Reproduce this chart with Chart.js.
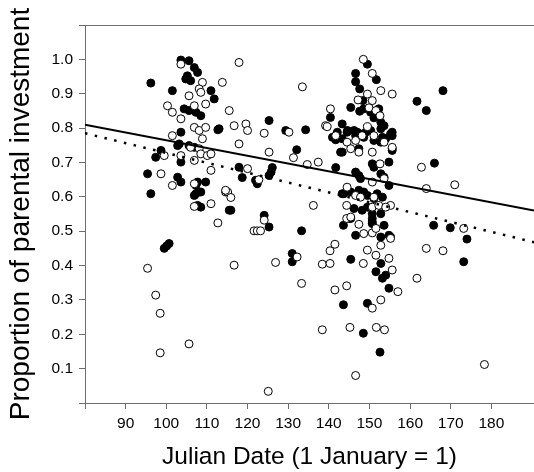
<!DOCTYPE html>
<html>
<head>
<meta charset="utf-8">
<title>Proportion of parental investment by Julian date</title>
<script src="https://cdn.jsdelivr.net/npm/chart.js@4"></script>
<style>
  html, body { margin: 0; padding: 0; background: #fff; }
  canvas { display: block; }
</style>
</head>
<body>
<canvas id="chart" width="534" height="472"></canvas>
<script>
const xTicks = [80, 90, 100, 110, 120, 130, 140, 150, 160, 170, 180];
const yTicks = [0, 0.1, 0.2, 0.3, 0.4, 0.5, 0.6, 0.7, 0.8, 0.9, 1.0, 1.1];

// filled circles [julian date, proportion]
const filledPoints = [
  [96.2, 0.931], [103.6, 0.998], [105.6, 0.996], [106.9, 0.976], [107.7, 0.962],
  [105.2, 0.952], [104.8, 0.943], [106.0, 0.938], [101.5, 0.909], [111.0, 0.909],
  [111.8, 0.885], [104.4, 0.856], [105.6, 0.851], [107.3, 0.846], [108.5, 0.836],
  [112.7, 0.795], [103.6, 0.788], [103.2, 0.754], [102.8, 0.749], [105.6, 0.749],
  [106.9, 0.744], [98.7, 0.735], [97.4, 0.715], [103.6, 0.701], [95.4, 0.667],
  [102.8, 0.657], [103.6, 0.643], [107.7, 0.643], [109.7, 0.643], [107.3, 0.633],
  [96.2, 0.609], [107.3, 0.609], [108.5, 0.614], [106.9, 0.604], [107.7, 0.575],
  [108.5, 0.570], [115.5, 0.561], [99.5, 0.450], [100.1, 0.457], [100.7, 0.464],
  [113.0, 0.798],
  [117.9, 0.686], [118.7, 0.656], [126.1, 0.685], [125.8, 0.672], [125.3, 0.662],
  [122.0, 0.648], [122.4, 0.638], [125.3, 0.822], [129.4, 0.793], [134.3, 0.795],
  [132.1, 0.737], [115.9, 0.561], [124.1, 0.546], [125.3, 0.512], [133.3, 0.501],
  [131.0, 0.435], [131.0, 0.411], [141.7, 0.685],
  [140.4, 0.831], [145.4, 0.860], [141.7, 0.766], [143.3, 0.769], [144.5, 0.788],
  [143.3, 0.730], [143.3, 0.609], [143.6, 0.517], [145.4, 0.418], [143.6, 0.286],
  [149.5, 0.986], [146.6, 0.959], [146.6, 0.935], [147.6, 0.914], [151.7, 0.941],
  [148.4, 0.880], [147.6, 0.849], [148.6, 0.856], [151.1, 0.830], [152.8, 0.817],
  [153.6, 0.807], [150.3, 0.846], [152.3, 0.856],
  [140.9, 0.773], [142.1, 0.788], [143.3, 0.812], [146.2, 0.793], [146.6, 0.778],
  [147.8, 0.783], [148.6, 0.773], [149.1, 0.788], [150.3, 0.793], [151.1, 0.764],
  [152.8, 0.798], [153.2, 0.773], [155.6, 0.788], [155.6, 0.778], [144.6, 0.793],
  [147.0, 0.788], [155.2, 0.783], [154.0, 0.769], [155.6, 0.735], [152.8, 0.759],
  [142.9, 0.730], [147.4, 0.740], [155.6, 0.740],
  [150.7, 0.696], [151.1, 0.686], [154.8, 0.701], [152.8, 0.667],
  [146.6, 0.672], [147.4, 0.662], [147.8, 0.653], [154.8, 0.633], [153.6, 0.657],
  [143.7, 0.609], [145.4, 0.614], [147.4, 0.619], [148.6, 0.614], [149.5, 0.604],
  [151.1, 0.595], [151.9, 0.609], [153.2, 0.599],
  [146.2, 0.566], [148.2, 0.561], [149.5, 0.570], [150.7, 0.551], [152.8, 0.551],
  [144.9, 0.537], [145.4, 0.537], [150.7, 0.537], [150.7, 0.522], [146.6, 0.488],
  [150.7, 0.527], [153.6, 0.517], [152.8, 0.483], [154.8, 0.488], [155.2, 0.483],
  [152.8, 0.406], [151.6, 0.382], [153.2, 0.363], [154.0, 0.372], [154.8, 0.334],
  [149.5, 0.290], [148.5, 0.203], [152.6, 0.148],
  [161.7, 0.878], [164.0, 0.851], [168.1, 0.909], [166.0, 0.698], [165.8, 0.517],
  [169.9, 0.510], [174.0, 0.477], [173.2, 0.411]
];

// open circles [julian date, proportion]
const openPoints = [
  [103.6, 0.986], [113.8, 0.933], [108.9, 0.933], [108.1, 0.914], [108.5, 0.904],
  [105.6, 0.894], [100.3, 0.865], [101.5, 0.846], [106.9, 0.865], [109.7, 0.870],
  [103.6, 0.827], [115.5, 0.851], [106.9, 0.802], [108.1, 0.793], [109.7, 0.802],
  [108.9, 0.769], [101.5, 0.778], [106.0, 0.744], [108.1, 0.740], [108.5, 0.725],
  [110.1, 0.720], [111.0, 0.725], [99.5, 0.720], [103.6, 0.720], [106.9, 0.706],
  [111.0, 0.677], [98.7, 0.667], [101.5, 0.633], [106.9, 0.638], [114.6, 0.614],
  [106.9, 0.572], [111.0, 0.580], [115.1, 0.614], [112.7, 0.524], [95.4, 0.392],
  [97.4, 0.314], [98.5, 0.261], [105.6, 0.172], [98.5, 0.146], [117.9, 0.991],
  [116.7, 0.807], [119.6, 0.812], [133.5, 0.920], [140.4, 0.856], [120.0, 0.793],
  [124.1, 0.785], [130.2, 0.788], [139.2, 0.807], [141.7, 0.778], [117.9, 0.754],
  [125.3, 0.730], [131.3, 0.714], [134.7, 0.694], [137.4, 0.701], [120.0, 0.682],
  [122.8, 0.650], [114.6, 0.619], [115.9, 0.598], [136.2, 0.575], [144.4, 0.575],
  [124.1, 0.532], [121.6, 0.501], [122.4, 0.501], [123.2, 0.501], [144.4, 0.537],
  [132.2, 0.425], [116.7, 0.401], [126.9, 0.409], [133.3, 0.348], [138.4, 0.404],
  [140.3, 0.406], [140.3, 0.443], [141.5, 0.462], [141.5, 0.329], [144.4, 0.341],
  [138.4, 0.213], [145.2, 0.220], [125.1, 0.034],
  [148.5, 1.000], [150.7, 0.959], [149.5, 0.899], [150.7, 0.880], [152.8, 0.909],
  [155.6, 0.899], [139.6, 0.804], [147.2, 0.882], [149.9, 0.859], [151.6, 0.851],
  [152.6, 0.836], [149.5, 0.804],
  [144.5, 0.759], [146.6, 0.764], [148.2, 0.778], [151.1, 0.778], [153.6, 0.759],
  [145.4, 0.740], [147.4, 0.730], [150.7, 0.730], [155.6, 0.744],
  [152.6, 0.696], [150.7, 0.643], [153.6, 0.653],
  [144.5, 0.628], [146.6, 0.604], [147.8, 0.599], [151.1, 0.599], [155.2, 0.575],
  [150.7, 0.570], [152.3, 0.575], [154.0, 0.570],
  [145.4, 0.541], [147.4, 0.520], [148.6, 0.493], [150.7, 0.495], [151.6, 0.508],
  [155.2, 0.479], [152.8, 0.459], [149.5, 0.445], [151.6, 0.430], [154.8, 0.421],
  [155.6, 0.387], [148.5, 0.406], [157.0, 0.324], [150.7, 0.276], [152.8, 0.300],
  [151.7, 0.220], [153.7, 0.213], [146.6, 0.080],
  [162.8, 0.686], [164.0, 0.624], [171.0, 0.635], [173.2, 0.508], [164.0, 0.450],
  [168.1, 0.443], [161.7, 0.363], [178.3, 0.112]
];

// fitted regression lines (end points)
const solidFit = [[80, 0.81], [190.5, 0.56]];
const dottedFit = [[80, 0.785], [190.5, 0.468]];

const axisColor = "#6e6e6e";
const fontFamily = "'Liberation Sans', Arial, sans-serif";

const toXY = (pairs) => pairs.map(([x, y]) => ({ x, y }));

const topBorder = {
  id: "topBorder",
  afterDraw(chart) {
    const { ctx, chartArea } = chart;
    ctx.save();
    ctx.strokeStyle = axisColor;
    ctx.lineWidth = 1;
    ctx.beginPath();
    ctx.moveTo(chartArea.left, chartArea.top + 0.5);
    ctx.lineTo(chartArea.right, chartArea.top + 0.5);
    ctx.stroke();
    ctx.restore();
  },
};

const ctx = document.getElementById("chart").getContext("2d");
new Chart(ctx, {
  type: "scatter",
  data: {
    datasets: [
      {
        type: "line",
        data: toXY(solidFit),
        borderColor: "#000",
        borderWidth: 2,
        pointRadius: 0,
        order: 0,
      },
      {
        type: "line",
        data: toXY(dottedFit),
        borderColor: "#000",
        borderWidth: 2.5,
        borderDash: [2.5, 7.5],
        pointRadius: 0,
        order: 0,
      },
      {
        data: toXY(openPoints),
        backgroundColor: "#fff",
        borderColor: "#000",
        borderWidth: 1,
        pointRadius: 4,
        order: 1,
      },
      {
        data: toXY(filledPoints),
        backgroundColor: "#000",
        borderColor: "#000",
        borderWidth: 1,
        pointRadius: 4,
        order: 2,
      },
    ],
  },
  options: {
    responsive: false,
    animation: false,
    devicePixelRatio: 1,
    layout: { autoPadding: false, padding: { top: 25, right: 0, bottom: 0, left: 0 } },
    plugins: {
      legend: { display: false },
      tooltip: { enabled: false },
    },
    scales: {
      x: {
        type: "linear",
        min: 80,
        max: 190.5,
        afterBuildTicks: (axis) => {
          axis.ticks = xTicks.map((value) => ({ value }));
        },
        afterFit: (scale) => {
          scale.height = 69;
        },
        ticks: {
          callback: (v) => (v === 80 ? "" : String(v)),
          color: "#000",
          font: { family: fontFamily, size: 15.5 },
          padding: 5,
          maxRotation: 0,
          autoSkip: false,
        },
        grid: {
          drawOnChartArea: false,
          drawTicks: true,
          tickLength: 6,
          color: axisColor,
        },
        border: { color: axisColor, width: 1 },
        title: {
          display: true,
          text: "Julian Date (1 January = 1)",
          color: "#000",
          font: { family: fontFamily, size: 24.5 },
          padding: { top: 0, bottom: 0 },
        },
      },
      y: {
        type: "linear",
        min: 0,
        max: 1.1,
        afterBuildTicks: (axis) => {
          axis.ticks = yTicks.map((value) => ({ value }));
        },
        afterFit: (scale) => {
          scale.width = 85;
        },
        ticks: {
          callback: (v) => (v === 0 || v > 1.05 ? "" : v.toFixed(1)),
          color: "#000",
          font: { family: fontFamily, size: 15.5 },
          padding: 6,
          autoSkip: false,
        },
        grid: {
          drawOnChartArea: false,
          drawTicks: true,
          tickLength: 6,
          color: axisColor,
        },
        border: { color: axisColor, width: 1 },
        title: {
          display: true,
          text: "Proportion of parental investment",
          color: "#000",
          font: { family: fontFamily, size: 28 },
          padding: { top: 4, bottom: 0 },
        },
      },
    },
  },
  plugins: [topBorder],
});
</script>
</body>
</html>
